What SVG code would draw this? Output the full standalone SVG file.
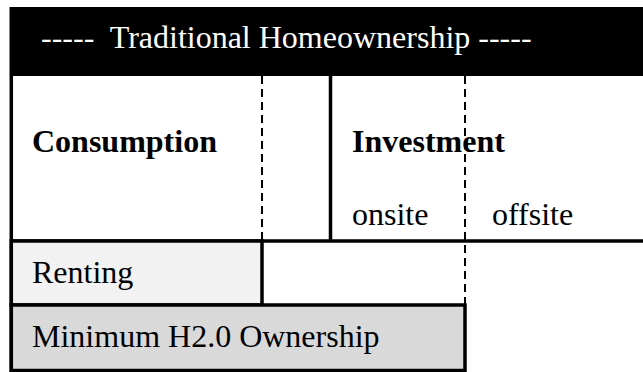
<svg xmlns="http://www.w3.org/2000/svg" width="643" height="372" viewBox="0 0 643 372">
  <style>
    .t { font-family: "Liberation Serif", "Times New Roman", serif; font-size: 32px; fill: #000; }
    .b { font-weight: bold; }
    .hdr { fill: #fff; white-space: pre; }
    .solid { stroke: #000; stroke-width: 3.5; fill: none; }
    .dash { stroke: #000; stroke-width: 2; stroke-dasharray: 8 5; fill: none; }
    .box { stroke: #000; stroke-width: 3.5; }
  </style>
  <rect width="643" height="372" fill="#fff"/>
  <g id="header">
    <rect x="9.5" y="7" width="634" height="69" fill="#000"/>
    <text class="t hdr" x="41" y="48" xml:space="preserve">-----  Traditional Homeownership -----</text>
  </g>
  <g id="connectors">
    <line class="solid" x1="11.3" y1="76" x2="11.3" y2="372"/>
    <line class="solid" x1="11.3" y1="241" x2="643" y2="241"/>
    <line class="solid" x1="330.5" y1="76" x2="330.5" y2="241"/>
    <line class="dash" x1="262" y1="76" x2="262" y2="241"/>
    <line class="dash" x1="465" y1="76" x2="465" y2="305"/>
  </g>
  <g id="consumption">
    <text class="t b" x="32" y="152">Consumption</text>
  </g>
  <g id="investment">
    <text class="t b" x="352" y="152">Investment</text>
    <text class="t" x="352" y="225">onsite</text>
    <text class="t" x="492" y="225">offsite</text>
  </g>
  <g id="renting">
    <rect class="box" x="11.3" y="241" width="250.7" height="64" fill="#f2f2f2"/>
    <text class="t" x="32" y="283">Renting</text>
  </g>
  <g id="minimum">
    <rect class="box" x="11.3" y="305" width="453.7" height="65.5" fill="#d9d9d9"/>
    <text class="t" x="32" y="347">Minimum H2.0 Ownership</text>
  </g>
</svg>
